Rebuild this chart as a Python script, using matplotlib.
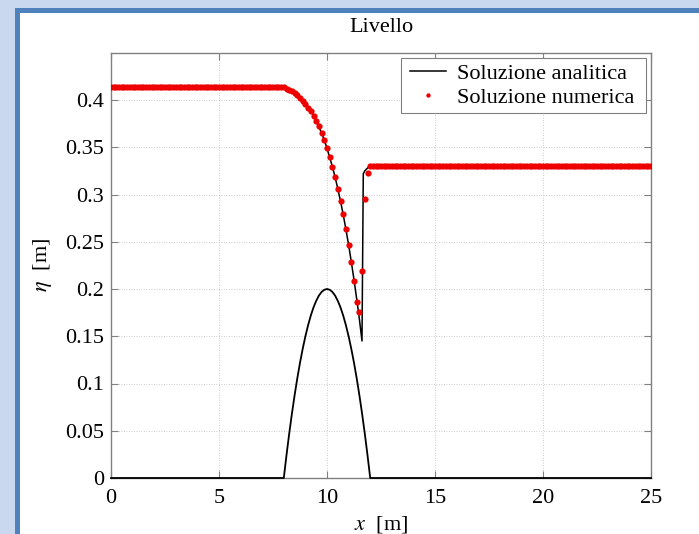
import matplotlib
matplotlib.use("Agg")
import matplotlib.pyplot as plt
import numpy as np
from matplotlib.patches import Rectangle

# free-surface level over a parabolic bump: transcritical flow with a shock

# numerical solution, uniform grid dx = 0.125 m
x_num = np.arange(201) * 0.125
eta_up = [0.4135] * 65          # x = 0 ... 8.0
eta_bump = [
    0.412, 0.411, 0.409, 0.407, 0.405, 0.402, 0.399, 0.396,
    0.392, 0.388, 0.383, 0.378, 0.372, 0.365, 0.358, 0.349,
    0.340, 0.329, 0.318, 0.306, 0.293, 0.279, 0.263, 0.247,
    0.229, 0.208, 0.186, 0.176, 0.219, 0.295, 0.323,
]                                # x = 8.125 ... 11.875
eta_down = [0.33] * 105          # x = 12.0 ... 25
eta_num = np.array(eta_up + eta_bump + eta_down)

# analytical solution
x_ana = [0, 8, 8.125, 8.25, 8.375, 8.5, 8.625, 8.75, 8.875, 9, 9.125, 9.25,
         9.375, 9.5, 9.625, 9.75, 9.875, 10, 10.125, 10.25, 10.375, 10.5,
         10.625, 10.75, 10.875, 11, 11.125, 11.25, 11.375, 11.5, 11.62,
         11.68, 11.75, 11.875, 12, 25]
eta_ana = [0.4137, 0.4137, 0.4125, 0.4109, 0.4093, 0.4073, 0.4049, 0.4024,
           0.3995, 0.396, 0.3925, 0.3879, 0.3832, 0.3778, 0.3717, 0.3649,
           0.3577, 0.349, 0.3392, 0.3294, 0.3185, 0.306, 0.2930, 0.2788,
           0.2632, 0.2467, 0.2288, 0.2098, 0.1895, 0.168, 0.145, 0.322,
           0.325, 0.328, 0.33, 0.33]

# bottom profile
x_bed = [0, 8, 8.125, 8.25, 8.375, 8.5, 8.625, 8.75, 8.875, 9, 9.125, 9.25,
         9.375, 9.5, 9.625, 9.75, 9.875, 10, 10.125, 10.25, 10.375, 10.5,
         10.625, 10.75, 10.875, 11, 11.125, 11.25, 11.375, 11.5, 11.625,
         11.75, 11.875, 12, 25]
z_bed = [0, 0, 0.0242, 0.0469, 0.0680, 0.0875, 0.1055, 0.1219, 0.1367, 0.15,
         0.1617, 0.1719, 0.1805, 0.1875, 0.1930, 0.1969, 0.1992, 0.2, 0.1992,
         0.1969, 0.1930, 0.1875, 0.1805, 0.1719, 0.1617, 0.15, 0.1367, 0.1219,
         0.1055, 0.0875, 0.0680, 0.0469, 0.0242, 0, 0]

x_ticks = [0, 5, 10, 15, 20, 25]
y_ticks = [0, 0.05, 0.1, 0.15, 0.2, 0.25, 0.3, 0.35, 0.4]

plt.rcParams.update({
    "font.family": ["Liberation Serif", "DejaVu Serif"],
    "mathtext.fontset": "stix",
    "font.size": 16,
})

W, H = 699, 534
fig = plt.figure(figsize=(W / 100, H / 100), dpi=100)
fig.patch.set_facecolor("#c9d8ef")
# slide-style frame: blue bands on top and left, white panel inside
fig.patches.append(Rectangle((15 / W, 0), 1, 1 - 8 / H, transform=fig.transFigure,
                             facecolor="#4f81bd", edgecolor="none", zorder=-2))
fig.patches.append(Rectangle((20 / W, 0), 1, 1 - 13 / H, transform=fig.transFigure,
                             facecolor="white", edgecolor="none", zorder=-1))

ax = fig.add_axes([111 / W, 1 - 478 / H, 540 / W, (478 - 52.75) / H])
ax.set_facecolor("white")

ax.plot(x_ana, eta_ana, color="black", lw=1.1, label="Soluzione analitica", zorder=3)
ax.plot(x_bed, z_bed, color="black", lw=1.3, zorder=3, clip_on=False)
ax.plot(x_num, eta_num, linestyle="none", marker="o", ms=4.5, mfc="#ee0000",
        mec="none", label="Soluzione numerica", zorder=4)

ax.set_xlim(0, 25)
ax.set_ylim(0, 0.45)
ax.set_xticks(x_ticks)
ax.set_yticks(y_ticks)
ax.set_xticklabels([f"{v:g}" for v in x_ticks])
ax.set_yticklabels([f"{v:g}" for v in y_ticks])
ax.tick_params(direction="in", top=True, right=True, length=5, width=0.8,
               color="#808080", labelsize=16)
ax.tick_params(axis="x", pad=8)
ax.tick_params(axis="y", pad=5)
for spine in ax.spines.values():
    spine.set_color("#808080")
    spine.set_linewidth(1.0)
ax.grid(True, color="#bcbcbc", linestyle=(0, (1, 2)), linewidth=0.6)
ax.set_axisbelow(True)

ax.set_title("Livello", fontsize=16, pad=15)
ax.set_xlabel(r"$x$  [m]", fontsize=16, labelpad=4)
ax.set_ylabel(r"$\eta$  [m]", fontsize=16, labelpad=8)

# legend box drawn separately so its padding can be wider than tall
box = Rectangle((401 / W, 1 - 113 / H), 245 / W, 55 / H, transform=fig.transFigure,
                facecolor="white", edgecolor="#808080", lw=0.8, zorder=5, clip_on=False)
ax.add_patch(box)
leg = ax.legend(loc="center", bbox_to_anchor=(522 / W, 1 - 85.5 / H),
                bbox_transform=fig.transFigure, frameon=False, borderpad=0,
                handlelength=1.6, handletextpad=0.5, labelspacing=0.14,
                markerscale=0.7, fontsize=16)
leg.set_zorder(6)

fig.savefig("out.png", dpi=100, facecolor=fig.get_facecolor())
